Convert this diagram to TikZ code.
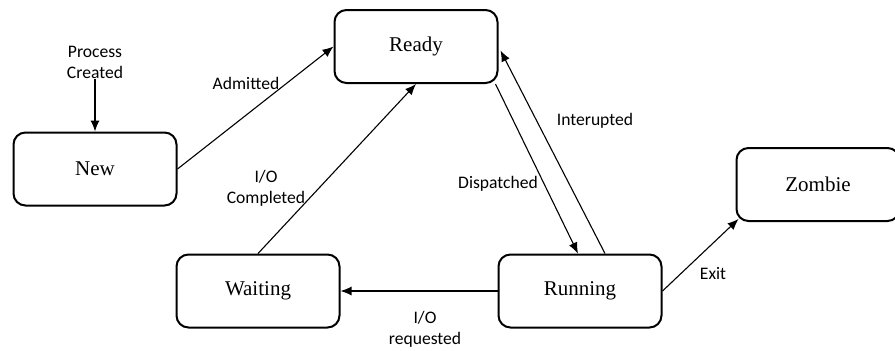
\documentclass[tikz,border=0pt]{standalone}
\usepackage{fontspec}
\setmainfont{Liberation Serif}
\newfontfamily\lblfont{Carlito}
\usetikzlibrary{arrows.meta}
\usetikzlibrary{positioning}
\usetikzlibrary{calc}

\tikzset{
  state/.style={draw, line width=1pt, rounded corners=6pt, minimum width=81.5pt,
    minimum height=36.5pt, font=\fontsize{10.5}{12}\selectfont},
  trans/.style={line width=0.55pt, -{Latex[length=5.5pt,width=4.5pt]}},
  lbl/.style={font=\lblfont\fontsize{8.8}{10.5}\selectfont, align=center, inner sep=0pt}
}

\begin{document}
\begin{tikzpicture}[x=0.5pt, y=-0.5pt]

\useasboundingbox (0,0) rectangle (895,350);

% states
\node[state] (Ready)   at (416,46.5) {Ready};
\node[state] (New)     at (95,169)   {New};
\node[state] (Waiting) at (258,291)  {Waiting};
\node[state] (Running) at (580,291)  {Running};
\node[state] (Zombie)  at (818,184.5) {Zombie};

% start
\node[lbl] (Created) at (95,62) {Process\\Created};
\draw[trans] (Created.south) -- (New.north);

% transitions
\draw[trans] (New.east) -- (Ready.west);
\draw[trans] (Waiting.north) -- (Ready.south);
\draw[trans] ($(Ready.south east)+(-3,0)$) -- ($(Running.north)+(-2,0)$);
\draw[trans] ($(Running.north)+(25,0)$) -- ($(Ready.east)+(2,4)$);
\draw[trans] (Running.west) -- (Waiting.east);
\draw[trans] (Running.east) -- ($(Zombie.south west)+(3,-3)$);

% labels
\node[lbl] (lAdmitted)   at (246,83)  {Admitted};
\node[lbl] (lCompleted)  at (266,188) {I/O\\Completed};
\node[lbl] (lDispatched) at (498,184) {Dispatched};
\node[lbl] (lInterupted) at (595,121) {Interupted};
\node[lbl] (lRequested)  at (425,329) {I/O\\requested};
\node[lbl] (lExit)       at (713,273) {Exit};

\end{tikzpicture}
\end{document}
